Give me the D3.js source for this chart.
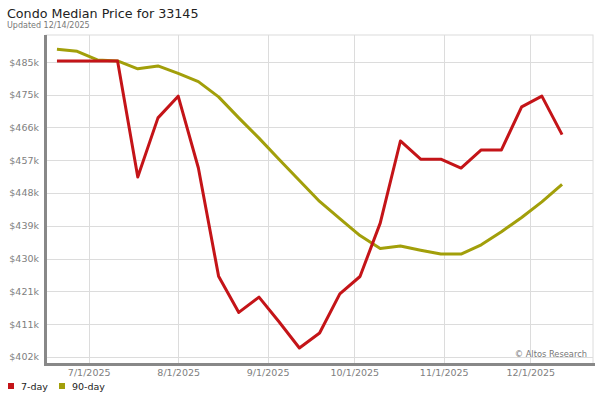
<!DOCTYPE html>
<html>
<head>
<meta charset="utf-8">
<script src="https://cdn.jsdelivr.net/npm/d3@7"></script>
<style>
  html, body { margin: 0; padding: 0; background: #fff; }
  svg { display: block; font-family: "DejaVu Sans", sans-serif; }
</style>
</head>
<body>
<svg id="chart" width="600" height="400"></svg>
<script>
// ---- data ----
const dates = ["2025-06-20","2025-06-27","2025-07-04","2025-07-11","2025-07-18","2025-07-25",
  "2025-08-01","2025-08-08","2025-08-15","2025-08-22","2025-08-29","2025-09-05","2025-09-12",
  "2025-09-19","2025-09-26","2025-10-03","2025-10-10","2025-10-17","2025-10-24","2025-10-31",
  "2025-11-07","2025-11-14","2025-11-21","2025-11-28","2025-12-05","2025-12-12"];
const sevenDay = [485.2, 485.2, 485.2, 485.2, 452.6, 469.2, 475.3, 455.1, 424.7, 414.5, 418.8, 411.8, 404.5,
  408.7, 419.7, 424.6, 439.6, 462.7, 457.6, 457.6, 455.1, 460.2, 460.2, 472.3, 475.3, 464.5];
const ninetyDay = [488.5, 487.9, 485.5, 485.2, 483.0, 483.8, 481.7, 479.4, 475.1, 469.2, 463.5, 457.5, 451.6,
  445.7, 440.9, 436.1, 432.5, 433.2, 432.0, 430.9, 430.9, 433.5, 437.2, 441.2, 445.6, 450.5];
const yTickValues = [402.0, 411.2, 420.4, 429.6, 438.9, 448.1, 457.3, 466.5, 475.7, 484.9];
const yTickLabels = ["$402k","$411k","$421k","$430k","$439k","$448k","$457k","$466k","$475k","$485k"];
const xTickDates = ["2025-07-01","2025-08-01","2025-09-01","2025-10-01","2025-11-01","2025-12-01"];
const xTickLabels = ["7/1/2025","8/1/2025","9/1/2025","10/1/2025","11/1/2025","12/1/2025"];
const seriesNames = ["7-day", "90-day"];
const seriesColors = ["#c41418", "#a29f0a"];
const titleText = "Condo Median Price for 33145";
const subtitleText = "Updated 12/14/2025";
const creditText = "\u00A9 Altos Research";

// ---- layout ----
const svg = d3.select("#chart");
const plot = { left: 46, right: 593, top: 35, bottom: 364 };
const parse = d3.utcParse("%Y-%m-%d");

// time scale calibrated so 7/1 -> 88.7 px and 12/1 -> 530.3 px
const x0 = parse("2025-07-01"), x1 = parse("2025-12-01");
const pxPerMs = (530.3 - 88.7) / (x1 - x0);
const x = d3.scaleUtc()
  .domain([new Date(+x0 - (88.7 - plot.left) / pxPerMs), new Date(+x0 + (plot.right - 88.7) / pxPerMs)])
  .range([plot.left, plot.right]);

const y = d3.scaleLinear().domain([400, 492.5]).range([plot.bottom, plot.top]);

// title
svg.append("text").attr("x", 7).attr("y", 17.5)
  .attr("font-size", 12.7).attr("fill", "#222").text(titleText);
svg.append("text").attr("x", 7).attr("y", 28)
  .attr("font-size", 8).attr("fill", "#777").text(subtitleText);

// frame / grid
const g = svg.append("g");
g.append("rect").attr("x", plot.left).attr("y", plot.top)
  .attr("width", plot.right - plot.left).attr("height", plot.bottom - plot.top)
  .attr("fill", "#fff").attr("stroke", "#dcdcdc").attr("stroke-width", 1);

const yAxis = d3.axisLeft(y).tickValues(yTickValues)
  .tickSize(-(plot.right - plot.left)).tickPadding(7)
  .tickFormat((d, i) => yTickLabels[i]);
const gy = g.append("g").attr("transform", `translate(${plot.left},0)`).call(yAxis);
gy.select(".domain").remove();
gy.selectAll(".tick line").attr("stroke", "#dcdcdc").attr("shape-rendering", "crispEdges");
gy.selectAll(".tick text").attr("fill", "#808080").attr("font-size", 9.5)
  .attr("font-family", "DejaVu Sans, sans-serif");

const xAxis = d3.axisBottom(x).tickValues(xTickDates.map(parse))
  .tickSize(-(plot.bottom - plot.top)).tickPadding(5)
  .tickFormat((d, i) => xTickLabels[i]);
const gx = g.append("g").attr("transform", `translate(0,${plot.bottom})`).call(xAxis);
gx.select(".domain").remove();
gx.selectAll(".tick line").attr("stroke", "#dcdcdc").attr("shape-rendering", "crispEdges");
gx.selectAll(".tick text").attr("fill", "#808080").attr("font-size", 9.5)
  .attr("font-family", "DejaVu Sans, sans-serif");

// credit
svg.append("text").attr("x", 587).attr("y", 357).attr("text-anchor", "end")
  .attr("font-size", 8.3).attr("fill", "#777").text(creditText);

// lines
const parsed = dates.map(parse);
const line = d3.line().x((d, i) => x(parsed[i])).y(d => y(d));
svg.append("path").datum(ninetyDay).attr("d", line)
  .attr("fill", "none").attr("stroke", seriesColors[1]).attr("stroke-width", 3)
  .attr("stroke-linejoin", "round");
svg.append("path").datum(sevenDay).attr("d", line)
  .attr("fill", "none").attr("stroke", seriesColors[0]).attr("stroke-width", 3)
  .attr("stroke-linejoin", "round");

// axis bars
svg.append("rect").attr("x", 44).attr("y", plot.top).attr("width", 3)
  .attr("height", plot.bottom - plot.top + 2).attr("fill", "#888");
svg.append("rect").attr("x", 44).attr("y", 363).attr("width", 551)
  .attr("height", 3).attr("fill", "#888");

// legend
const leg = svg.append("g");
const legX = [8, 59];
seriesNames.forEach((n, i) => {
  leg.append("rect").attr("x", legX[i]).attr("y", 383).attr("width", 6).attr("height", 6)
    .attr("fill", seriesColors[i]);
  leg.append("text").attr("x", legX[i] + 13).attr("y", 390)
    .attr("font-size", 9.5).attr("fill", "#222").text(n);
});
</script>
</body>
</html>
